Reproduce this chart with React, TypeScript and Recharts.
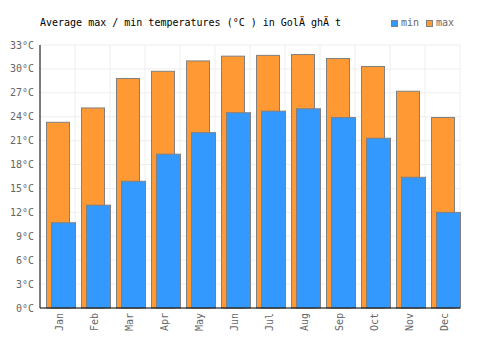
import React from 'react';
import { BarChart, Bar, XAxis, YAxis, CartesianGrid } from 'recharts';

const months = ['Jan', 'Feb', 'Mar', 'Apr', 'May', 'Jun', 'Jul', 'Aug', 'Sep', 'Oct', 'Nov', 'Dec'];
const minTemps = [10.7, 12.9, 15.9, 19.3, 22.0, 24.5, 24.7, 25.0, 23.9, 21.3, 16.4, 12.0];
const maxTemps = [23.3, 25.1, 28.8, 29.7, 31.0, 31.6, 31.7, 31.8, 31.3, 30.3, 27.2, 23.9];
const yTicks = [0, 3, 6, 9, 12, 15, 18, 21, 24, 27, 30, 33];
const title = 'Average max / min temperatures (°C ) in GolÄ ghÄ t';

const MIN_COLOR = '#3399FF';
const MAX_COLOR = '#FF9933';
const FONT = '"DejaVu Sans Mono", monospace';

const legendItems = [
  { name: 'min', color: MIN_COLOR },
  { name: 'max', color: MAX_COLOR },
];

const data = months.map((m, i) => ({ month: m, min: minTemps[i], max: maxTemps[i] }));

const BarShape = (props: any) => {
  const { x, y, width, height, fill } = props;
  if (height == null || width == null) return null;
  return (
    <rect
      x={x + 3.5}
      y={y}
      width={width}
      height={height}
      fill={fill}
      stroke="#808080"
      strokeWidth={1}
    />
  );
};

const XTick = (props: any) => {
  const { x, y, payload } = props;
  const tx = x + 2;
  const ty = y + 5;
  return (
    <text
      x={tx}
      y={ty}
      transform={`rotate(-90 ${tx} ${ty})`}
      textAnchor="end"
      dominantBaseline="central"
      fill="#666"
      fontSize={10}
      fontFamily={FONT}
    >
      {payload.value}
    </text>
  );
};

export default function App() {
  return (
    <div style={{ position: 'absolute', left: 0, top: 0, width: 500, height: 350, fontFamily: FONT, background: '#fff' }}>
      <div style={{ position: 'absolute', left: 40, top: 17, fontSize: 10, lineHeight: '12px', color: '#000', whiteSpace: 'pre' }}>
        {title}
      </div>
      <div style={{ position: 'absolute', left: 391, top: 17, display: 'flex', alignItems: 'center', fontSize: 10, lineHeight: '12px', color: '#666' }}>
        {legendItems.map((it) => (
          <div key={it.name} style={{ display: 'flex', alignItems: 'center', marginRight: 7 }}>
            <div style={{ width: 5, height: 5, background: it.color, border: '1px solid #808080', marginRight: 3 }} />
            <span>{it.name}</span>
          </div>
        ))}
      </div>
      <BarChart
        width={500}
        height={350}
        data={data}
        margin={{ top: 45, right: 40, bottom: 0, left: 0 }}
        barGap={-18}
        barCategoryGap={0}
      >
        <CartesianGrid
          stroke="#eeeeee"
          strokeWidth={1}
          verticalCoordinatesGenerator={({ offset }: any) =>
            Array.from({ length: months.length + 1 }, (_, i) => offset.left + (i * offset.width) / months.length)
          }
        />
        <XAxis
          dataKey="month"
          height={42}
          axisLine={{ stroke: '#000' }}
          tickLine={false}
          tickSize={0}
          tickMargin={0}
          interval={0}
          tick={<XTick />}
        />
        <YAxis
          width={40}
          domain={[0, 33]}
          ticks={yTicks}
          interval={0}
          axisLine={{ stroke: '#000' }}
          tickLine={false}
          tickSize={0}
          tickMargin={6}
          tickFormatter={(v: number) => `${v}°C`}
          tick={{ fill: '#666', fontSize: 10, fontFamily: FONT }}
        />
        <Bar dataKey="max" fill={MAX_COLOR} barSize={23} shape={<BarShape />} isAnimationActive={false} />
        <Bar dataKey="min" fill={MIN_COLOR} barSize={24} shape={<BarShape />} isAnimationActive={false} />
      </BarChart>
    </div>
  );
}
